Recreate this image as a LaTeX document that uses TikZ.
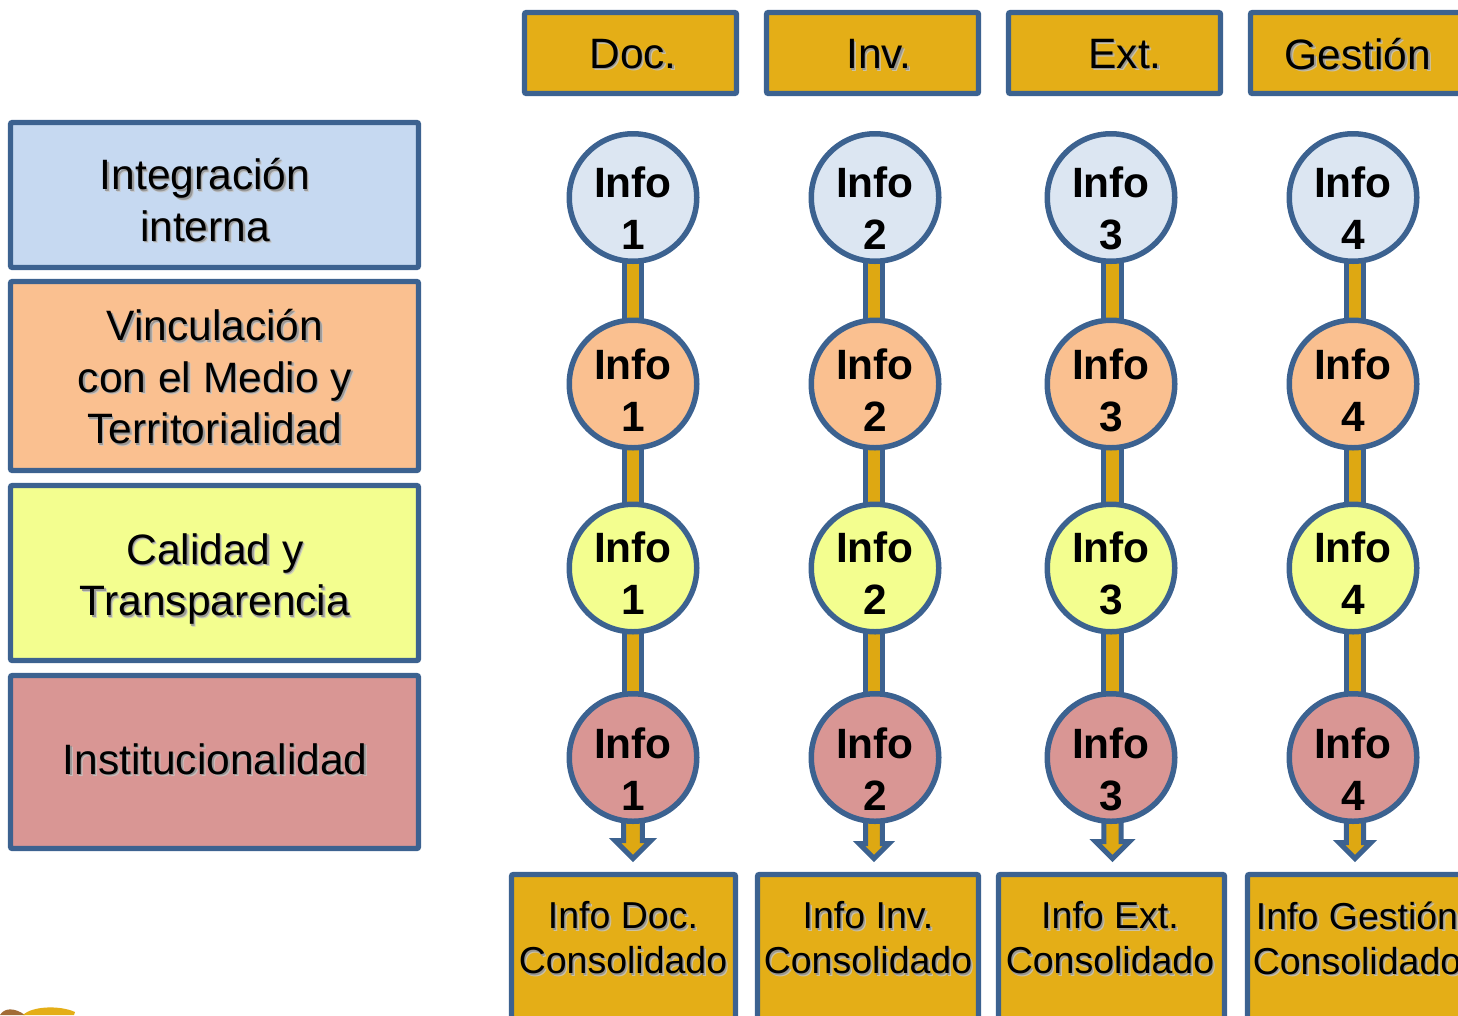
\documentclass[tikz,border=0pt]{standalone}
\usepackage{fontspec}
\setmainfont{Liberation Sans}
\usetikzlibrary{calc,backgrounds}
\definecolor{edgeblue}{HTML}{3C6290}
\definecolor{gold}{HTML}{E4AE17}
\definecolor{shaftgold}{HTML}{DEA812}
\definecolor{boxblue}{HTML}{C6D9F1}
\definecolor{boxorange}{HTML}{FAC090}
\definecolor{boxyellow}{HTML}{F3FE8F}
\definecolor{boxred}{HTML}{D99694}
\definecolor{circblue}{HTML}{DCE6F2}
\tikzset{
  x=1pt,y=-1pt,
  boxbase/.style={draw=edgeblue,line width=5.4pt,rounded corners=2pt,inner sep=0pt,outer sep=0pt,anchor=north west},
  txt/.style={inner sep=0pt,align=center,text=black},
  big/.style={txt,font=\fontsize{42.5}{51.5}\selectfont},
  small/.style={txt,font=\fontsize{37.5}{45}\selectfont},
  bold/.style={txt,font=\fontsize{42.4}{52}\selectfont\bfseries,text depth=0pt},
  disc/.style={circle,draw=edgeblue,line width=5.5pt,minimum size=127.5pt,inner sep=0pt,outer sep=0pt},
  shaft/.style={line width=5pt,draw=edgeblue,double=shaftgold,double distance=12.5pt},
  head/.style={draw=edgeblue,fill=shaftgold,line width=5pt,miter limit=10},
}
\newcommand{\boxat}[6]{% name, x0,y0,x1,y1, colour
  \node[boxbase,fill=#6,minimum width=#4-#2,minimum height=#5-#3] (#1) at (#2,#3) {};}
% text with the soft drop shadow of the reference
\newcommand{\shtext}[4]{% style, name, position, text
  \node[#1,text=black!22,opacity=.8] (#2s2) at ($(#3)+(2.4,2.4)$) {#4};
  \node[#1,text=black!45,opacity=.8] (#2s1) at ($(#3)+(1.4,1.4)$) {#4};
  \node[#1] (#2) at (#3) {#4};}
\begin{document}
\begin{tikzpicture}
\useasboundingbox (0,0) rectangle (1458,1015);
\clip (0,0) rectangle (1458,1015);
% logo fragment
\fill[brown!85!black] (0,1015) .. controls (4,1008) and (14,1007) .. (25,1015) -- cycle;
\fill[gold] (23,1015) .. controls (32,1006) and (60,1005) .. (75,1012) -- (74,1015) -- cycle;
% left boxes
\boxat{la}{10.5}{122.5}{418.5}{267.5}{boxblue}
\boxat{lb}{10.5}{281.5}{418.5}{470.5}{boxorange}
\boxat{lc}{10.5}{485.5}{418.5}{660.5}{boxyellow}
\boxat{ld}{10.5}{675.5}{418.5}{848.5}{boxred}
\shtext{big}{lat}{205,200}{Integración\\interna}
\shtext{big}{lbt}{215,377}{Vinculación\\con el Medio y\\Territorialidad}
\shtext{big}{lct}{215,579}{Calidad y\\Transparencia}
\shtext{big}{ldt}{215,759}{Institucionalidad}
% top boxes
\boxat{t1}{524.5}{12.5}{736.5}{93.5}{gold}
\boxat{t2}{766.5}{12.5}{978.5}{93.5}{gold}
\boxat{t3}{1008.5}{12.5}{1220.5}{93.5}{gold}
\boxat{t4}{1250.5}{12.5}{1480}{93.5}{gold}
\shtext{big}{t1t}{633,54}{Doc.}
\shtext{big}{t2t}{879,54}{Inv.}
\shtext{big}{t3t}{1125,54}{Ext.}
\shtext{big}{t4t}{1358,54}{Gestión}
% columns: number / circle x / shaft offset / y of head top / half shaft width
\foreach \n/\x/\dx/\hy/\sw in {1/633/0/840.5/9.3,2/875/-1/843.5/8.4,3/1111/1.5/841.5/8.7,4/1353/2/842.5/8.6}{
  \pgfmathsetmacro{\hw}{858.5-\hy}
  \node[disc,fill=circblue] (a\n) at (\x,197.5) {};
  \node[disc,fill=boxorange] (b\n) at (\x,384) {};
  \node[disc,fill=boxyellow] (c\n) at (\x,568) {};
  \node[disc,fill=boxred] (d\n) at (\x,757.5) {};
  \coordinate (s\n) at (\x+\dx,\hy);
  \begin{scope}[on background layer]
    \draw[shaft] ($(a\n)+(\dx,0)$) -- ($(b\n)+(\dx,0)$);
    \draw[shaft] ($(b\n)+(\dx,0)$) -- ($(c\n)+(\dx,0)$);
    \draw[shaft] ($(c\n)+(\dx,0)$) -- ($(d\n)+(\dx,0)$);
    \draw[head] ($(d\n)+(\dx-\sw,0)$) -- ($(s\n)+(-\sw,0)$) -- ($(s\n)+(-\hw,0)$) -- ($(s\n)+(0,\hw)$) -- ($(s\n)+(\hw,0)$) -- ($(s\n)+(\sw,0)$) -- ($(d\n)+(\dx+\sw,0)$);
  \end{scope}
  \node[bold] (a\n t) at (\x,208.5) {Info\\\n};
  \node[bold] (b\n t) at (\x,390.5) {Info\\\n};
  \node[bold] (c\n t) at (\x,573.5) {Info\\\n};
  \node[bold] (d\n t) at (\x,769.5) {Info\\\n};
}
% bottom boxes
\boxat{o1}{511.5}{874.5}{735.5}{1040}{gold}
\boxat{o2}{757.5}{874.5}{978.5}{1040}{gold}
\boxat{o3}{998.5}{874.5}{1224.5}{1040}{gold}
\boxat{o4}{1247.5}{874.5}{1490}{1040}{gold}
\shtext{small}{o1t}{623,938}{Info Doc.\\Consolidado}
\shtext{small}{o2t}{868,938}{Info Inv.\\Consolidado}
\shtext{small}{o3t}{1110,938}{Info Ext.\\Consolidado}
\shtext{small}{o4t}{1357,938}{Info Gestión\\Consolidado}
\end{tikzpicture}
\end{document}
